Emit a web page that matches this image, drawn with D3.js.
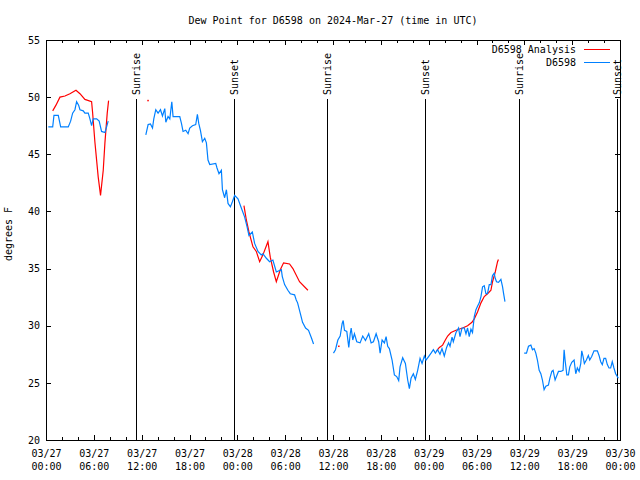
<!DOCTYPE html>
<html>
<head>
<meta charset="utf-8">
<script src="https://cdn.jsdelivr.net/npm/d3@7"></script>
<style>
  body { margin: 0; background: #fff; }
  text { font-family: "DejaVu Sans Mono", monospace; font-size: 10px; fill: #000; }
</style>
</head>
<body>
<svg id="chart" width="640" height="480"></svg>
<script>
// hours after 03/27 00:00 UTC, null value = gap in the record
const obsHours = [0.29,0.84,1.0,1.54,1.84,2.79,3.09,3.34,3.63,3.84,4.09,4.26,4.67,4.88,5.3,5.51,5.72,5.92,6.35,6.67,6.97,7.39,7.6,7.8,
  10,
  12.52,12.81,13.1,13.36,13.52,13.77,14.06,14.36,14.61,14.9,15.03,15.31,15.53,15.78,15.94,16.28,16.78,16.99,17.19,17.53,17.82,18.03,18.37,18.78,18.99,19.16,19.37,19.62,19.91,20.12,20.32,20.54,21.29,21.45,21.7,22.0,22.13,22.41,22.63,22.83,23.13,23.38,23.66,24.08,24.5,24.92,25.21,25.46,25.88,26.17,26.59,27.0,27.21,27.64,28.05,28.46,28.89,29.52,29.64,29.93,30.34,30.64,31.18,31.39,31.56,31.93,32.18,32.56,32.93,33.31,33.56,
  35,
  36.06,36.31,36.61,36.9,37.15,37.28,37.44,37.73,37.98,38.16,38.28,38.48,38.69,38.98,39.4,39.73,40.07,40.48,40.78,41.07,41.41,41.73,41.91,42.16,42.45,42.66,42.86,43.07,43.41,43.7,43.99,44.24,44.41,44.74,45.08,45.37,45.58,45.79,46.08,46.33,46.62,46.92,47.17,47.46,47.67,47.99,48.3,48.59,48.84,49.12,49.42,49.67,49.96,50.25,50.5,50.68,50.93,51.09,51.43,51.75,51.93,52.18,52.47,52.68,52.88,53.09,53.3,53.5,53.72,53.93,54.13,54.35,54.56,54.76,54.97,55.18,55.38,55.6,55.81,56.01,56.22,56.35,56.51,56.76,57.06,57.27,57.4,57.57,
  59,
  59.98,60.27,60.52,60.82,61.02,61.23,61.44,61.64,61.86,62.07,62.27,62.48,62.7,63.02,63.2,63.45,63.61,63.86,64.03,64.28,64.58,64.86,64.99,65.11,65.33,65.53,65.7,65.95,66.24,66.45,66.65,66.87,67.08,67.2,67.37,67.53,67.78,68.03,68.2,68.45,68.74,69.16,69.37,69.58,69.78,69.99,70.2,70.41,70.62,70.83,71.03,71.24,71.45,71.66,71.79];
const obsDew = [47.4,47.4,48.4,48.4,47.4,47.4,47.9,48.6,48.9,49.6,49.3,48.9,48.8,48.6,48.6,48.1,47.5,48.1,48.1,47.9,47.0,46.9,47.4,47.9,
  null,
  46.7,47.6,47.65,47.3,48.1,48.9,48.6,48.9,48.35,49.0,47.8,48.3,48.1,49.6,48.3,48.3,48.3,47.7,47.0,47.1,46.8,47.3,47.5,47.6,48.5,47.7,47.1,46.1,46.4,46.0,44.5,44.1,44.2,43.8,43.3,43.6,41.9,41.2,41.9,40.7,40.4,40.85,41.4,41.1,40.3,39.5,38.7,37.9,38.2,37.2,36.5,36.2,36.3,35.9,35.6,35.75,34.7,34.9,34.3,33.6,33.1,32.8,32.7,32.25,32.0,31.0,30.3,29.8,29.6,28.9,28.4,
  null,
  27.6,27.9,28.75,29.1,30.2,30.45,29.6,29.5,28.1,29.3,29.8,28.75,29.3,28.6,28.5,29.1,28.7,29.3,28.5,28.6,29.3,28.6,27.6,28.75,28.5,29.05,28.2,28.0,27.0,25.7,25.55,25.2,26.4,27.2,26.7,25.25,24.5,25.4,25.8,25.3,26.1,27.15,26.7,27.35,27.0,27.3,27.6,27.9,27.6,27.9,27.5,28.0,27.35,28.1,28.5,28.2,29.0,28.6,29.4,29.8,29.05,29.8,29.8,29.3,29.8,29.05,29.7,29.4,30.8,31.4,31.7,32.0,32.55,33.4,33.5,32.8,32.8,33.6,33.6,34.4,34.6,34.15,33.85,33.8,34.05,33.4,32.8,32.1,
  null,
  27.6,27.6,28.2,28.3,27.9,28.0,27.6,27.0,26.1,25.8,25.25,24.4,24.7,24.8,25.4,26.0,26.1,25.25,25.55,26.0,26.0,26.1,27.9,27.0,25.7,25.7,26.4,26.8,27.0,25.8,26.3,26.0,26.7,27.8,27.3,26.7,27.0,27.4,27.0,27.3,27.8,27.8,27.4,26.85,26.6,27.15,27.15,26.6,26.3,26.3,26.85,26.3,25.8,25.55,25.4];

const anaHours = [0.84,1.25,1.75,2.38,3.0,3.76,4.26,4.88,5.72,5.84,6.13,6.55,6.84,7.18,7.39,7.68,7.85,
  10, 12.8, 14,
  24.83,25.13,25.46,25.96,26.38,26.8,27.21,27.84,28.13,28.55,28.89,29.39,29.8,30.55,30.97,31.8,32.85,
  35, 36.73, 38,
  49.0,49.34,49.75,50.09,50.38,50.8,51.43,52.26,52.88,53.43,53.72,54.13,54.56,54.97,55.38,55.81,56.01,56.35,56.64,56.75];
const anaDew = [48.8,49.3,50.0,50.1,50.3,50.6,50.3,49.8,49.6,48.7,46.1,43.0,41.4,43.6,46.0,48.6,49.7,
  null, 49.7, null,
  40.5,39.25,38.2,36.9,36.5,35.6,36.2,37.35,36.0,34.7,33.85,34.9,35.5,35.4,35.0,33.85,33.1,
  null, 28.2, null,
  27.8,28.1,28.3,28.75,29.1,29.4,29.6,29.8,30.0,30.3,30.6,31.2,32.0,32.55,32.8,33.1,33.85,34.7,35.6,35.8];

const sunLabels = ["Sunrise", "Sunset", "Sunrise", "Sunset", "Sunrise", "Sunset"];
const sunHours = [11.27, 23.58, 35.22, 47.6, 59.27, 71.68];

const yTicks = [20, 25, 30, 35, 40, 45, 50, 55];
const seriesNames = ["D6598 Analysis", "D6598"];
const seriesColors = ["#ff0000", "#0080ff"];

const startTime = new Date(Date.UTC(2024, 2, 27));
const atHour = h => new Date(startTime.getTime() + h * 3600e3);

const svg = d3.select("#chart");
const plotLeft = 46, plotRight = 620, plotTop = 40, plotBottom = 440;

const x = d3.scaleUtc().domain([startTime, atHour(72)]).range([plotLeft, plotRight]);
const y = d3.scaleLinear().domain([20, 55]).range([plotBottom, plotTop]);

function toPoints(hours, vals) {
    return hours.map((h, i) => ({ t: atHour(h), v: vals[i] }));
}

// frame
svg.append("rect")
    .attr("x", plotLeft + 0.5).attr("y", plotTop + 0.5)
    .attr("width", plotRight - plotLeft).attr("height", plotBottom - plotTop)
    .attr("fill", "none").attr("stroke", "#000")
    .attr("shape-rendering", "crispEdges");

// axes (ticks point inward, gnuplot style)
function noDomain(g) { g.select(".domain").remove(); g.attr("shape-rendering", "crispEdges"); }

svg.append("g").attr("transform", `translate(0,${plotBottom})`)
    .call(d3.axisBottom(x).ticks(d3.utcHour.every(2)).tickSize(-3).tickSizeOuter(0).tickFormat(""))
    .call(noDomain);
svg.append("g").attr("transform", `translate(0,${plotTop})`)
    .call(d3.axisTop(x).ticks(d3.utcHour.every(2)).tickSize(-3).tickSizeOuter(0).tickFormat(""))
    .call(noDomain);
svg.append("g").attr("transform", `translate(0,${plotTop})`)
    .call(d3.axisTop(x).ticks(d3.utcHour.every(6)).tickSize(-5).tickSizeOuter(0).tickFormat(""))
    .call(noDomain);

const fmtDay = d3.utcFormat("%m/%d"), fmtTime = d3.utcFormat("%H:%M");
svg.append("g").attr("transform", `translate(0,${plotBottom})`)
    .call(d3.axisBottom(x).ticks(d3.utcHour.every(6)).tickSize(-5).tickSizeOuter(0))
    .call(noDomain)
    .selectAll(".tick text")
    .each(function (d) {
        const t = d3.select(this).text(null).attr("y", null).attr("dy", null);
        t.append("tspan").attr("x", 0).attr("y", 17).text(fmtDay(d));
        t.append("tspan").attr("x", 0).attr("y", 30).text(fmtTime(d));
    });

svg.append("g").attr("transform", `translate(${plotLeft},0)`)
    .call(d3.axisLeft(y).tickValues(yTicks).tickSize(-5).tickSizeOuter(0).tickPadding(6))
    .call(noDomain);
svg.append("g").attr("transform", `translate(${plotRight},0)`)
    .call(d3.axisRight(y).tickValues(yTicks).tickSize(-5).tickSizeOuter(0).tickFormat(""))
    .call(noDomain);

// sunrise / sunset markers
sunHours.forEach((h, i) => {
    const sx = Math.round(x(atHour(h))) + 0.5;
    svg.append("line")
        .attr("x1", sx).attr("x2", sx).attr("y1", 99).attr("y2", plotBottom)
        .attr("stroke", "#000").attr("shape-rendering", "crispEdges");
    svg.append("text")
        .attr("transform", `translate(${sx},95) rotate(-90)`)
        .attr("dy", "0.35em")
        .text(sunLabels[i]);
});

// series
const line = d3.line()
    .defined(d => d.v !== null)
    .x(d => x(d.t))
    .y(d => y(d.v));

function drawSeries(points, color) {
    svg.append("path")
        .datum(points)
        .attr("fill", "none")
        .attr("stroke", color)
        .attr("stroke-width", 1.2)
        .attr("d", line);
    // lone readings with gaps on both sides
    const lone = points.filter((d, i) => d.v !== null &&
        (i === 0 || points[i - 1].v === null) &&
        (i === points.length - 1 || points[i + 1].v === null));
    svg.selectAll(null).data(lone).enter().append("rect")
        .attr("x", d => x(d.t) - 0.75).attr("y", d => y(d.v) - 0.75)
        .attr("width", 1.5).attr("height", 1.5)
        .attr("fill", color);
}

drawSeries(toPoints(anaHours, anaDew), seriesColors[0]);
drawSeries(toPoints(obsHours, obsDew), seriesColors[1]);

// legend
seriesNames.forEach((name, i) => {
    const ly = 49 + i * 13;
    svg.append("text")
        .attr("x", 576).attr("y", ly).attr("dy", "0.35em")
        .attr("text-anchor", "end")
        .text(name);
    svg.append("line")
        .attr("x1", 584).attr("x2", 610).attr("y1", ly + 0.5).attr("y2", ly + 0.5)
        .attr("stroke", seriesColors[i]).attr("shape-rendering", "crispEdges");
});

// titles
svg.append("text")
    .attr("x", (plotLeft + plotRight) / 2).attr("y", 24)
    .attr("text-anchor", "middle")
    .text("Dew Point for D6598 on 2024-Mar-27 (time in UTC)");

svg.append("text")
    .attr("transform", "translate(12,234) rotate(-90)")
    .attr("text-anchor", "middle")
    .text("degrees F");
</script>
</body>
</html>
